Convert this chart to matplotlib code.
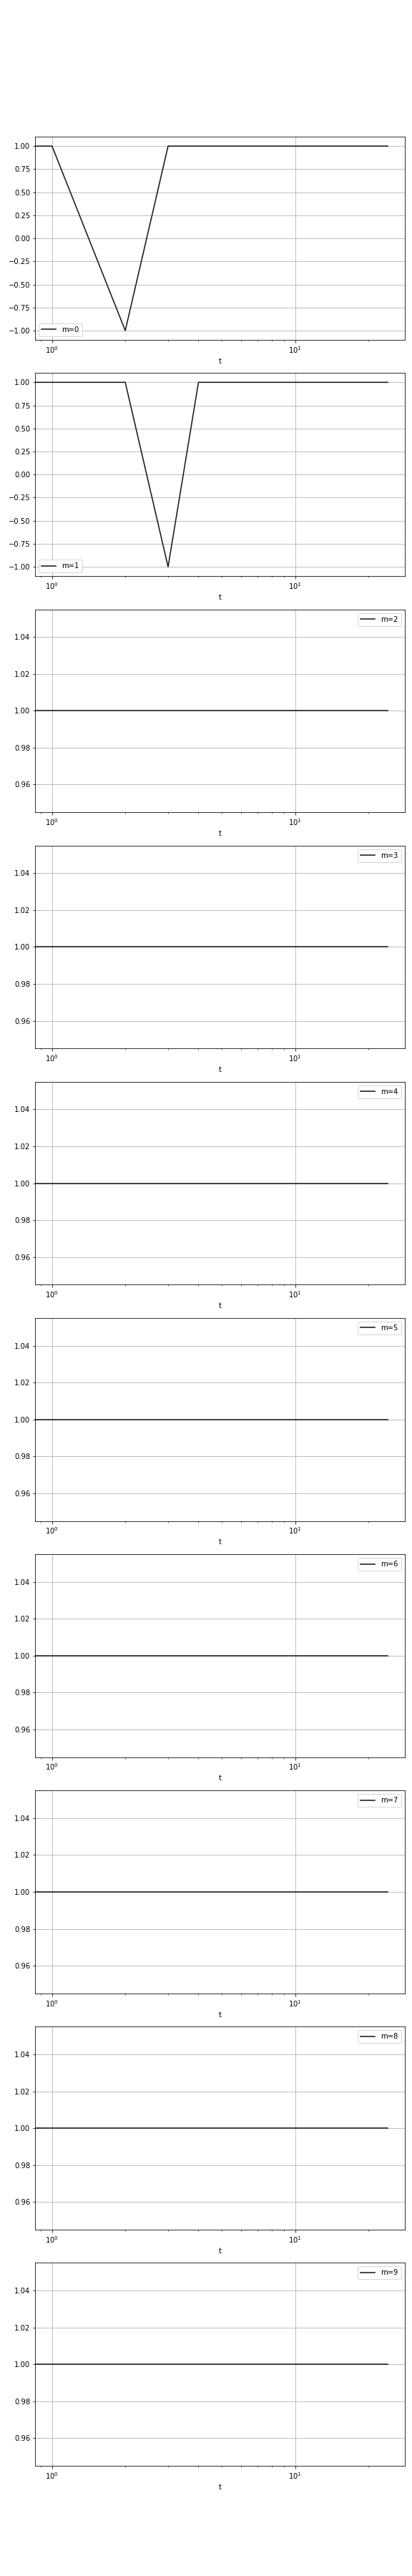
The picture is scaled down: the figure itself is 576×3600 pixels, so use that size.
import matplotlib
matplotlib.use("Agg")
import matplotlib.pyplot as plt

t = list(range(0, 25))
labels = [f"m={m}" for m in range(10)]
series = [
    [1, 1, -1, 1] + [1] * 21,
    [1, 1, 1, -1, 1] + [1] * 20,
] + [[1] * 25 for _ in range(8)]

fig, axes = plt.subplots(10, 1, figsize=(8, 50), dpi=72)
fig.subplots_adjust(left=49.3 / 576, right=565.5 / 576,
                    top=1 - 191.3 / 3600, bottom=1 - 3446 / 3600,
                    hspace=0.164)

for ax, y, lab in zip(axes, series, labels):
    ax.plot(t, y, color="#1c1c1c", linewidth=1.6, label=lab)
    ax.set_xscale("log")
    ax.set_xlabel("t")
    ax.grid(True)
    ax.legend(loc="best")

fig.savefig("out.png", dpi=72)
